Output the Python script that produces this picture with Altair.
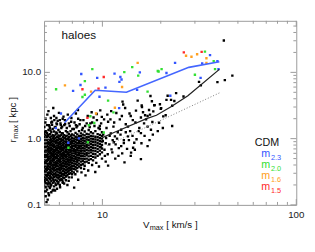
import altair as alt
import pandas as pd

# ---------------- data ----------------
# dense CDM cloud: V_max column -> r_max values
cloud_v = [5.02, 5.1, 5.18, 5.27, 5.36, 5.45, 5.54, 5.63, 5.73, 5.83, 5.93, 6.03,
           6.14, 6.25, 6.36, 6.48, 6.6, 6.72, 6.85, 6.98, 7.12, 7.27, 7.42, 7.58,
           7.75, 7.92, 8.1, 8.3, 8.5, 8.72, 8.95, 9.2, 9.45, 9.7, 9.95]
cloud_r = [
    [0.16, 0.2, 0.235, 0.26, 0.3, 0.325, 0.37, 0.4, 0.445, 0.5, 0.53, 0.6, 0.64, 0.72, 0.8, 0.84, 0.93, 1.07, 1.18, 1.5],
    [0.135, 0.185, 0.215, 0.25, 0.28, 0.315, 0.345, 0.385, 0.43, 0.465, 0.52, 0.565, 0.62, 0.68, 0.75, 0.83, 0.9, 1.0, 1.12, 1.3, 2.0],
    [0.17, 0.205, 0.24, 0.27, 0.29, 0.335, 0.36, 0.41, 0.455, 0.49, 0.55, 0.59, 0.66, 0.7, 0.78, 0.87, 0.96, 1.05, 1.22, 1.6],
    [0.15, 0.19, 0.225, 0.255, 0.285, 0.31, 0.35, 0.39, 0.42, 0.475, 0.51, 0.575, 0.63, 0.69, 0.74, 0.82, 0.89, 0.99, 1.1, 1.35, 2.6],
    [0.18, 0.21, 0.245, 0.275, 0.305, 0.34, 0.375, 0.415, 0.44, 0.5, 0.54, 0.6, 0.65, 0.71, 0.79, 0.85, 0.94, 1.03, 1.17, 1.45],
    [0.2, 0.23, 0.26, 0.295, 0.32, 0.355, 0.395, 0.425, 0.47, 0.52, 0.56, 0.61, 0.68, 0.73, 0.81, 0.88, 0.97, 1.08, 1.25, 1.75],
    [0.165, 0.215, 0.25, 0.28, 0.31, 0.345, 0.38, 0.405, 0.455, 0.49, 0.545, 0.585, 0.64, 0.7, 0.77, 0.84, 0.92, 1.01, 1.13, 1.4],
    [0.19, 0.225, 0.265, 0.29, 0.33, 0.36, 0.4, 0.435, 0.48, 0.525, 0.57, 0.63, 0.67, 0.75, 0.8, 0.9, 0.98, 1.09, 1.28, 2.2],
    [0.21, 0.24, 0.27, 0.305, 0.335, 0.37, 0.41, 0.445, 0.5, 0.535, 0.59, 0.645, 0.71, 0.76, 0.85, 0.93, 1.02, 1.15, 1.5],
    [0.175, 0.23, 0.26, 0.285, 0.32, 0.35, 0.39, 0.43, 0.465, 0.515, 0.56, 0.615, 0.67, 0.73, 0.79, 0.87, 0.95, 1.06, 1.2, 1.65],
    [0.22, 0.25, 0.28, 0.31, 0.34, 0.38, 0.42, 0.455, 0.49, 0.545, 0.6, 0.65, 0.72, 0.78, 0.86, 0.94, 1.04, 1.12, 1.35],
    [0.2, 0.235, 0.27, 0.3, 0.33, 0.365, 0.4, 0.44, 0.48, 0.52, 0.575, 0.625, 0.69, 0.74, 0.82, 0.89, 0.99, 1.1, 1.26, 1.9],
    [0.245, 0.275, 0.31, 0.345, 0.375, 0.41, 0.45, 0.5, 0.55, 0.59, 0.65, 0.7, 0.77, 0.84, 0.92, 1.0, 1.14, 1.45],
    [0.215, 0.26, 0.29, 0.325, 0.355, 0.39, 0.43, 0.47, 0.51, 0.56, 0.61, 0.67, 0.73, 0.8, 0.87, 0.96, 1.07, 1.2],
    [0.255, 0.285, 0.32, 0.35, 0.385, 0.42, 0.46, 0.5, 0.54, 0.6, 0.64, 0.71, 0.76, 0.84, 0.91, 1.01, 1.13, 1.6],
    [0.235, 0.27, 0.305, 0.335, 0.37, 0.405, 0.44, 0.485, 0.53, 0.57, 0.63, 0.68, 0.75, 0.81, 0.89, 0.97, 1.09, 1.3],
    [0.28, 0.31, 0.345, 0.38, 0.415, 0.45, 0.495, 0.54, 0.59, 0.64, 0.7, 0.76, 0.83, 0.9, 0.99, 1.11, 1.25],
    [0.26, 0.295, 0.33, 0.36, 0.4, 0.435, 0.475, 0.52, 0.565, 0.62, 0.67, 0.73, 0.8, 0.87, 0.95, 1.05, 1.18, 1.7],
    [0.3, 0.335, 0.37, 0.405, 0.44, 0.48, 0.53, 0.575, 0.63, 0.68, 0.74, 0.82, 0.88, 0.97, 1.08, 1.3],
    [0.29, 0.32, 0.355, 0.39, 0.43, 0.47, 0.51, 0.555, 0.6, 0.66, 0.72, 0.78, 0.86, 0.93, 1.02, 1.16],
    [0.31, 0.35, 0.385, 0.42, 0.46, 0.5, 0.545, 0.6, 0.65, 0.7, 0.77, 0.84, 0.92, 1.0, 1.12, 1.4],
    [0.34, 0.37, 0.41, 0.45, 0.49, 0.53, 0.58, 0.63, 0.68, 0.75, 0.81, 0.88, 0.97, 1.07, 1.22],
    [0.32, 0.36, 0.4, 0.44, 0.48, 0.52, 0.57, 0.62, 0.67, 0.73, 0.79, 0.86, 0.95, 1.04, 1.16, 1.55],
    [0.38, 0.42, 0.47, 0.51, 0.56, 0.61, 0.66, 0.72, 0.78, 0.85, 0.93, 1.01, 1.1, 1.3],
    [0.36, 0.4, 0.45, 0.5, 0.55, 0.6, 0.65, 0.71, 0.77, 0.84, 0.91, 0.99, 1.09, 1.2],
    [0.41, 0.46, 0.5, 0.55, 0.6, 0.66, 0.72, 0.79, 0.86, 0.94, 1.03, 1.15, 1.45],
    [0.39, 0.44, 0.49, 0.54, 0.59, 0.65, 0.71, 0.77, 0.84, 0.92, 1.01, 1.12, 1.28],
    [0.45, 0.5, 0.56, 0.61, 0.67, 0.74, 0.8, 0.88, 0.97, 1.06, 1.18],
    [0.43, 0.48, 0.54, 0.6, 0.66, 0.72, 0.79, 0.87, 0.95, 1.05, 1.16, 1.35],
    [0.49, 0.55, 0.62, 0.68, 0.75, 0.83, 0.91, 1.0, 1.1, 1.25],
    [0.47, 0.53, 0.59, 0.66, 0.73, 0.8, 0.89, 0.98, 1.08, 1.2],
    [0.52, 0.58, 0.65, 0.72, 0.8, 0.88, 0.97, 1.07, 1.3],
    [0.55, 0.63, 0.7, 0.78, 0.86, 0.95, 1.05, 1.17],
    [0.58, 0.66, 0.74, 0.83, 0.92, 1.02, 1.14, 1.4],
    [0.62, 0.71, 0.8, 0.9, 1.0, 1.1, 1.25],
]

# second, interleaved set of cloud haloes
core2_v = [5.06, 5.23, 5.4, 5.59, 5.78, 5.98, 6.19, 6.42, 6.66, 6.91]
core2_r = [
    [0.225, 0.31, 0.43, 0.57, 0.76, 0.98, 1.26],
    [0.21, 0.3, 0.38, 0.53, 0.67, 0.86, 1.14],
    [0.255, 0.33, 0.46, 0.62, 0.73, 0.95, 1.33],
    [0.24, 0.36, 0.5, 0.58, 0.79, 1.05],
    [0.28, 0.4, 0.52, 0.69, 0.88, 1.24],
    [0.26, 0.35, 0.47, 0.63, 0.83, 1.0],
    [0.29, 0.39, 0.54, 0.72, 0.95, 1.21],
    [0.3, 0.42, 0.56, 0.74, 1.03],
    [0.32, 0.46, 0.6, 0.78, 1.01],
    [0.35, 0.5, 0.66, 0.85, 1.12],
]

# sparse CDM haloes outside the dense cloud
sparse_v = [12.7, 12.8, 15.2, 15.95, 17.7, 18.0, 18.5, 11.8, 12.3, 13.8, 14.35, 15.8,
            16.4, 17.1, 13.55, 12.5, 11.4, 10.7, 9.93, 9.37, 8.67, 11.6, 13.55, 15.8,
            17.8, 14.6, 12.5, 11.15, 10.3, 12.1, 14.06, 17.1, 15.8, 13.0, 10.7, 9.19,
            8.18, 7.15, 6.24, 5.77, 5.34, 14.4, 5.3,
            5.65, 6.24, 7.3, 7.5, 8.8, 9.0, 9.75,
            14.8, 15.5, 16.2, 16.8, 17.4, 13.2, 12.0, 11.0, 10.5, 10.1, 9.7, 10.9,
            11.3, 12.9, 13.9, 10.4, 9.8, 11.7,
            5.12, 5.22, 5.4, 5.6, 5.9, 6.2, 6.5, 5.3, 5.5, 5.8, 6.1, 6.4, 6.9, 7.3,
            7.7, 8.3,
            42.3, 42.8, 46.8, 39.2, 31.5, 32.2, 24.0, 21.7, 22.6, 26.2, 20.1, 22.9,
            21.2, 20.6, 19.6, 22.9, 18.6, 19.8, 17.6, 18.3, 20.0, 23.5, 21.4, 18.1, 17.1,
            # upper fringe of the cloud
            5.08, 5.2, 5.33, 5.42, 5.5, 5.58, 5.68, 5.79, 5.88, 5.97, 6.08, 6.2, 6.3,
            6.42, 6.55, 6.63, 6.78, 6.92, 7.0, 7.18, 7.35, 7.48, 7.63, 7.85, 7.98, 8.15,
            8.4, 8.6, 8.85, 9.1, 9.35, 9.55, 9.85, 10.2, 10.6, 11.1, 11.5, 12.6, 13.1,
            14.0, 14.9, 16.0, 16.6,
            # intermediate haloes
            10.05, 10.25, 10.45, 10.65, 10.85, 11.05, 11.25, 11.45, 11.65, 11.9, 12.15,
            12.4, 12.65, 12.9, 13.2, 13.4, 13.7, 14.0, 14.3, 14.7, 15.0, 15.4, 15.9,
            16.5, 17.5, 18.2, 19.3, 20.5,
            # lower fringe
            6.05, 6.35, 6.7, 6.95, 7.25, 7.5, 7.8, 8.05, 8.45, 8.85, 9.3, 9.6, 9.95,
            10.4, 5.15, 5.45, 5.7, 6.6]
sparse_r = [3.62, 3.27, 3.75, 3.16, 4.39, 3.66, 3.19, 2.44, 1.95, 2.39, 1.90, 2.08,
            1.70, 1.52, 1.52, 1.36, 1.52, 1.80, 2.13, 1.90, 1.70, 1.08, 1.08, 1.21,
            1.36, 0.865, 0.771, 0.689, 0.549, 0.549, 0.616, 0.771, 0.491, 0.439, 0.392, 0.313,
            0.279, 0.182, 0.223, 0.199, 0.211, 0.73, 0.14,
            1.9, 2.0, 2.39, 2.0, 2.5, 2.08, 2.67,
            1.75, 1.45, 2.5, 1.95, 2.7, 1.65, 1.25, 1.95, 1.45, 1.15, 1.55, 1.1,
            0.95, 0.95, 1.3, 0.85, 0.75, 0.82,
            0.16, 0.12, 0.19, 0.17, 0.21, 0.24, 0.27, 1.6, 1.8, 1.7, 1.6, 1.9, 1.8, 1.6,
            1.9, 1.7,
            30.3, 7.63, 8.94, 7.13, 7.2, 6.37, 4.86, 4.44, 3.84, 4.33, 2.89, 3.13,
            2.25, 2.17, 1.74, 1.55, 3.21, 3.3, 2.3, 2.58, 2.83, 3.7, 3.84, 1.78, 2.2,
            1.75, 2.3, 1.55, 2.05, 1.62, 2.9, 1.48, 2.05, 1.85, 2.45, 1.7, 1.52, 2.15,
            1.66, 1.45, 2.3, 1.55, 2.05, 1.4, 1.75, 1.48, 2.7, 1.65, 1.35, 1.9, 1.55,
            2.2, 1.5, 1.75, 1.55, 2.35, 1.45, 1.7, 1.95, 2.3, 2.6, 1.75, 2.2, 2.9,
            2.2, 2.65, 3.0, 2.25,
            0.92, 0.68, 1.02, 0.58, 0.82, 1.2, 0.62, 0.88, 0.5, 1.0, 0.72,
            1.15, 0.6, 0.86, 1.25, 0.7, 0.95, 0.55, 1.1, 0.68, 0.98, 1.3, 0.85,
            1.1, 0.95, 1.15, 1.3, 1.45,
            0.185, 0.21, 0.23, 0.26, 0.29, 0.24, 0.31, 0.35, 0.33, 0.4, 0.43, 0.38, 0.5,
            0.45, 0.11, 0.155, 0.165, 0.2]

# warm dark matter haloes
m23_v = [7.06, 7.78, 7.71, 9.40, 10.37, 9.66, 11.55, 12.38, 12.55, 12.24, 15.6, 15.1,
         12.2, 6.11, 5.75, 7.57, 6.67, 23.7, 32.7, 35.9, 39.2, 21.4, 32.1, 39.7, 22.4]
m23_r = [5.26, 9.44, 6.44, 8.25, 5.88, 4.29, 9.57, 8.52, 7.81, 7.20, 10.0, 5.44,
         2.89, 2.39, 1.44, 1.01, 0.865, 13.9, 13.6, 18.2, 14.8, 9.77, 8.25, 11.2, 4.44]
m20_v = [5.77, 8.87, 8.12, 8.12, 7.89, 10.7, 12.97, 14.25, 15.3, 19.5, 17.1, 11.4,
         9.08, 8.67, 8.41, 6.68, 10.16, 8.51, 33.8, 37.5, 19.3, 20.2, 30.0, 38.1]
m20_r = [5.57, 11.2, 7.38, 4.59, 4.25, 3.75, 10.1, 12.0, 8.94, 10.3, 5.13, 2.49,
         1.72, 2.18, 0.883, 0.73, 1.24, 1.59, 20.6, 14.8, 10.5, 11.2, 9.19, 11.2]
m16_v = [6.41, 8.74, 12.63, 15.2, 11.6, 9.27, 27.0, 28.8, 30.8, 34.4, 34.4]
m16_r = [6.37, 5.13, 6.02, 13.9, 2.93, 2.39, 17.8, 17.2, 18.8, 16.3, 13.9]
m15_v = [7.89, 9.55, 10.16, 8.37, 26.3, 32.5]
m15_r = [5.57, 5.68, 8.52, 2.06, 20.0, 20.4]

# median relations
m23_med_v = [6.38, 9.18, 13.3, 27.9, 40.1]
m23_med_r = [1.74, 5.38, 5.02, 11.9, 14.5]
cdm_med_v = [10.0, 11.55, 16.9, 19.0, 22.7, 27.6, 40.1]
cdm_med_r = [1.035, 1.25, 2.0, 2.25, 3.06, 4.44, 11.1]
fit_v = [10.6, 40.5]
fit_r = [0.79, 4.96]

# axes
x_labels = [10, 100]
x_minor = [6, 7, 8, 9, 20, 30, 40, 50, 60, 70, 80, 90]
y_labels = [0.1, 1, 10]
y_minor = [0.2, 0.3, 0.4, 0.5, 0.6, 0.7, 0.8, 0.9, 2, 3, 4, 5, 6, 7, 8, 9, 20, 30, 40, 50]

models = ["m2.3", "m2.0", "m1.6", "m1.5"]
model_subs = ["2.3", "2.0", "1.6", "1.5"]
model_colors = ["#3355ff", "#33e033", "#ffa020", "#ff2a2a"]

# ---------------- chart ----------------
W, H = 259, 189
FONT = "Liberation Sans"
FRAME = "#999999"
LABEL_COLOR = "#222222"

xscale = alt.Scale(type="log", domain=[5, 100], nice=False)
yscale = alt.Scale(type="log", domain=[0.1, 60], nice=False)

cdm_rows = [(v, r) for v, rs in zip(cloud_v, cloud_r) for r in rs]
cdm_rows += [(v, r) for v, rs in zip(core2_v, core2_r) for r in rs]
cdm_rows += list(zip(sparse_v, sparse_r))
cdm_df = pd.DataFrame(cdm_rows, columns=["v", "r"])

wdm_rows = []
for name, vs, rs in [("m2.3", m23_v, m23_r), ("m2.0", m20_v, m20_r),
                     ("m1.6", m16_v, m16_r), ("m1.5", m15_v, m15_r)]:
    wdm_rows += [(name, v, r) for v, r in zip(vs, rs)]
wdm_df = pd.DataFrame(wdm_rows, columns=["model", "v", "r"])

X = lambda f: alt.X(f, scale=xscale, axis=None)
Y = lambda f: alt.Y(f, scale=yscale, axis=None)

cdm_layer = alt.Chart(cdm_df).mark_square(size=6, color="black", opacity=1, clip=True).encode(
    x=X("v:Q"), y=Y("r:Q"))

wdm_layer = alt.Chart(wdm_df).mark_square(size=6, opacity=1, clip=True).encode(
    x=X("v:Q"), y=Y("r:Q"),
    color=alt.Color("model:N", scale=alt.Scale(domain=models, range=model_colors), legend=None),
)


def line_layer(vs, rs, **kw):
    df = pd.DataFrame({"v": vs, "r": rs, "o": list(range(len(vs)))})
    return alt.Chart(df).mark_line(**kw).encode(x=X("v:Q"), y=Y("r:Q"), order="o:Q")


fit_layer = line_layer(fit_v, fit_r, color="#777777", strokeWidth=1, strokeDash=[1, 2])
cdm_line = line_layer(cdm_med_v, cdm_med_r, color="#222222", strokeWidth=1.3)
m23_line = line_layer(m23_med_v, m23_med_r, color="#4466ff", strokeWidth=1.6)


def ticks(vals, channel, side, length):
    df = pd.DataFrame({"t": vals})
    m = alt.Chart(df).mark_rule(color=FRAME, strokeWidth=1)
    if channel == "x":
        enc = dict(x=X("t:Q"))
        if side == "bottom":
            enc.update(y=alt.value(H), y2=alt.value(H - length))
        else:
            enc.update(y=alt.value(0), y2=alt.value(length))
    else:
        enc = dict(y=Y("t:Q"))
        if side == "left":
            enc.update(x=alt.value(0), x2=alt.value(length))
        else:
            enc.update(x=alt.value(W), x2=alt.value(W - length))
    return m.encode(**enc)


tick_layers = []
for side in ["bottom", "top"]:
    tick_layers.append(ticks(x_labels, "x", side, 6))
    tick_layers.append(ticks(x_minor, "x", side, 3))
for side in ["left", "right"]:
    tick_layers.append(ticks(y_labels, "y", side, 6))
    tick_layers.append(ticks(y_minor, "y", side, 3))

# tick labels, placed through the scales
xlab = alt.Chart(pd.DataFrame({"t": x_labels})).mark_text(
    font=FONT, fontSize=10, color=LABEL_COLOR, align="center", baseline="middle"
).encode(x=X("t:Q"), y=alt.value(H + 10), text=alt.Text("t:Q", format="d"))
ylab = alt.Chart(pd.DataFrame({"t": y_labels})).mark_text(
    font=FONT, fontSize=10, color=LABEL_COLOR, align="right", baseline="middle"
).encode(y=Y("t:Q"), x=alt.value(-3), text=alt.Text("t:Q", format=".1f"))


def label(text, x, y, size, color="#111111", angle=0, baseline="alphabetic", align="left"):
    kw = dict(font=FONT, fontSize=size, color=color, align=align, baseline=baseline)
    if angle:
        kw["angle"] = angle
    return alt.Chart(pd.DataFrame({"t": [text]})).mark_text(**kw).encode(
        text="t:N", x=alt.value(x), y=alt.value(y))


texts = [
    label("haloes", 18, 19, 12),
    # x title: V_max [ km/s ]
    label("V", 101.5, 213, 10),
    label("max", 108.5, 215, 7.5),
    label("[ km/s ]", 125.5, 213, 10),
    # y title: r_max [ kpc ] (rotated)
    label("r", -32, 125, 10, angle=270, baseline="middle"),
    label("max", -29, 121, 7.5, angle=270, baseline="middle"),
    label("[ kpc ]", -32, 105, 10, angle=270, baseline="middle"),
    # legend
    label("CDM", 241.5, 128.5, 11, align="right"),
]
for i, (sub, col) in enumerate(zip(model_subs, model_colors)):
    base = 140 + i * 11.3
    texts.append(label("m", 223, base, 11, color=col))
    texts.append(label(sub, 233, base + 3, 7.5, color=col))

chart = alt.layer(
    cdm_layer, wdm_layer, fit_layer, cdm_line, m23_line, *tick_layers, xlab, ylab, *texts
).properties(
    width=W, height=H,
    padding={"left": 37, "top": 10, "right": 11, "bottom": 37},
    autosize=alt.AutoSizeParams(type="none"),
    background="white",
).configure_view(stroke=FRAME, strokeWidth=1)

chart.save("out.html", embed_options={"renderer": "svg", "actions": False})
